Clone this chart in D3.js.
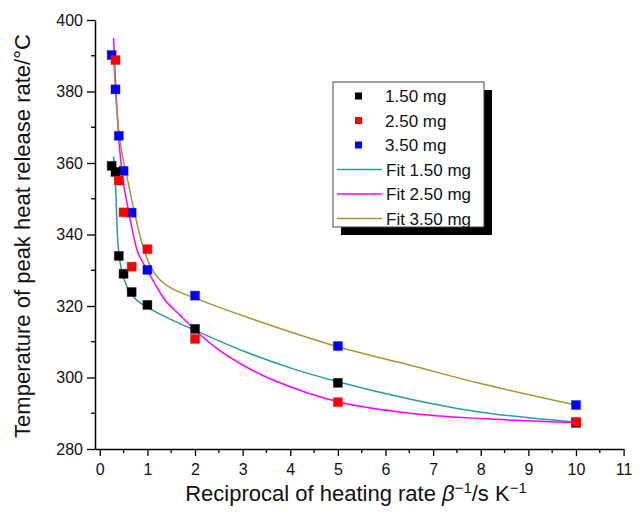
<!DOCTYPE html>
<html>
<head>
<meta charset="utf-8">
<script src="https://cdn.jsdelivr.net/npm/d3@7"></script>
<style>
  body { margin: 0; background: #fff; }
  svg { font-family: "Liberation Sans", Arial, Helvetica, sans-serif; }
</style>
</head>
<body>
<svg id="chart" width="644" height="515"></svg>
<script>
// measured points (x = 1/beta, y = temperature)
var x150 = [0.25, 0.33, 0.4, 0.5, 0.67, 1, 2, 5, 10];
var y150 = [359.2, 357.5, 334, 329, 323.9, 320.3, 313.6, 298.5, 287.3];
var x250 = [0.33, 0.4, 0.5, 0.67, 1, 2, 5, 10];
var y250 = [388.8, 355.1, 346.2, 331, 335.9, 310.8, 293.1, 287.6];
var x350 = [0.25, 0.33, 0.4, 0.5, 0.67, 1, 2, 5, 10];
var y350 = [390.2, 380.6, 367.6, 357.8, 346.1, 330.1, 322.9, 308.8, 292.3];

// fit curves
var fitX150 = [0.29, 0.33, 0.385, 0.45, 0.5, 0.6, 0.75, 1.0, 1.5, 2.0, 3.0, 4.0, 5.0, 6.5, 8.0, 10];
var fitY150 = [361.8, 354, 337, 330.5, 328, 324.5, 322, 319.6, 316.2, 313.2, 307.5, 302.7, 298.8, 294.0, 290.3, 287.5];
var fitX250 = [0.29, 0.33, 0.38, 0.42, 0.5, 0.56, 0.67, 0.8, 1.0, 1.37, 1.68, 2.0, 2.5, 3.0, 3.6, 5.0, 6.5, 8.0, 10];
var fitY250 = [395, 383, 371, 363.6, 354, 349.7, 342.2, 335, 330, 321.7, 317.5, 313.3, 307.7, 303.5, 299.5, 293.2, 290, 288.5, 287.4];
var fitX350 = [0.29, 0.35, 0.45, 0.6, 0.74, 0.9, 1.05, 1.25, 1.5, 2.0, 3.26, 5.0, 6.5, 8.0, 10];
var fitY350 = [391, 376, 364, 354.3, 345.5, 337, 331.5, 327.5, 325, 322.2, 316.1, 308.6, 303.5, 298.3, 292.3];

var xTicks = [0, 1, 2, 3, 4, 5, 6, 7, 8, 9, 10, 11];
var yTicks = [280, 300, 320, 340, 360, 380, 400];
var legendNames = ["1.50 mg", "2.50 mg", "3.50 mg", "Fit 1.50 mg", "Fit 2.50 mg", "Fit 3.50 mg"];

var svg = d3.select("#chart");

var x = d3.scaleLinear().domain([-0.1, 11]).range([95, 623.6]);
var y = d3.scaleLinear().domain([280, 400]).range([449, 20]);

// x axis
var xAxis = d3.axisBottom(x).tickValues(xTicks).tickSize(7).tickSizeOuter(0).tickPadding(8).tickFormat(d3.format("d"));
var gx = svg.append("g").attr("transform", "translate(0,449)").call(xAxis);
var xMinor = d3.range(0.5, 11, 1);
gx.selectAll("line.minor").data(xMinor).enter().append("line")
    .attr("class", "minor")
    .attr("x1", function(d){ return x(d); }).attr("x2", function(d){ return x(d); })
    .attr("y1", 0).attr("y2", 4).attr("stroke", "#000").attr("stroke-width", 1.3);

// y axis
var yAxis = d3.axisLeft(y).tickValues(yTicks).tickSize(8).tickSizeOuter(0).tickPadding(4);
var gy = svg.append("g").attr("transform", "translate(95,0)").call(yAxis);
var yMinor = d3.range(290, 400, 20);
gy.selectAll("line.minor").data(yMinor).enter().append("line")
    .attr("class", "minor")
    .attr("x1", -4).attr("x2", 0)
    .attr("y1", function(d){ return y(d); }).attr("y2", function(d){ return y(d); })
    .attr("stroke", "#000").attr("stroke-width", 1.3);

[gx, gy].forEach(function(g) {
    g.select(".domain").attr("stroke", "#000").attr("stroke-width", 1.5);
    g.selectAll(".tick line").attr("stroke", "#000").attr("stroke-width", 1.3);
    g.selectAll(".tick text").attr("font-size", 16).attr("fill", "#111")
        .attr("font-family", "Liberation Sans, Arial, sans-serif");
});

// axis titles
svg.append("text")
    .attr("transform", "translate(30,236) rotate(-90)")
    .attr("text-anchor", "middle")
    .attr("font-size", 22)
    .attr("fill", "#111")
    .text("Temperature of peak heat release rate/°C");

var xt = svg.append("text")
    .attr("x", 356).attr("y", 501)
    .attr("text-anchor", "middle")
    .attr("font-size", 22)
    .attr("fill", "#111");
xt.append("tspan").text("Reciprocal of heating rate ");
xt.append("tspan").attr("font-style", "italic").text("β");
xt.append("tspan").attr("font-size", 15).attr("dy", -8).text("−1");
xt.append("tspan").attr("dy", 8).text("/s K");
xt.append("tspan").attr("font-size", 15).attr("dy", -8).text("−1");

// fit curves
var line = d3.line()
    .x(function(d){ return x(d[0]); })
    .y(function(d){ return y(d[1]); })
    .curve(d3.curveCatmullRom.alpha(0.5));

var fits = [
    {xs: fitX150, ys: fitY150, color: "#2f9a9a"},
    {xs: fitX250, ys: fitY250, color: "#ff00ff"},
    {xs: fitX350, ys: fitY350, color: "#9e9a34"}
];
fits.forEach(function(f) {
    var pts = d3.zip(f.xs, f.ys);
    svg.append("path").datum(pts)
        .attr("d", line)
        .attr("fill", "none")
        .attr("stroke", f.color)
        .attr("stroke-width", 1.5);
});

// scatter points
var series = [
    {xs: x350, ys: y350, color: "#0000ff"},
    {xs: x150, ys: y150, color: "#000000"},
    {xs: x250, ys: y250, color: "#ff0000"}
];
var s = 9;
series.forEach(function(sr) {
    svg.append("g").selectAll("rect").data(d3.zip(sr.xs, sr.ys)).enter().append("rect")
        .attr("x", function(d){ return x(d[0]) - s / 2; })
        .attr("y", function(d){ return y(d[1]) - s / 2; })
        .attr("width", s).attr("height", s)
        .attr("fill", sr.color)
        .attr("stroke", sr.color).attr("stroke-opacity", 0.35).attr("stroke-width", 1);
});

// legend
var lg = svg.append("g");
lg.append("rect").attr("x", 341).attr("y", 90).attr("width", 151).attr("height", 145).attr("fill", "#000");
lg.append("rect").attr("x", 333).attr("y", 82).attr("width", 151).attr("height", 145)
    .attr("fill", "#fff").attr("stroke", "#444").attr("stroke-width", 1);

var legendColors = ["#000000", "#ff0000", "#0000ff", "#2f9a9a", "#ff00ff", "#9e9a34"];
legendNames.forEach(function(name, i) {
    var ly = 96 + i * 24.5;
    if (i < 3) {
        lg.append("rect").attr("x", 355).attr("y", ly - 3.5).attr("width", 7).attr("height", 7)
            .attr("fill", legendColors[i]);
    } else {
        lg.append("line").attr("x1", 337).attr("x2", 382).attr("y1", ly).attr("y2", ly)
            .attr("stroke", legendColors[i]).attr("stroke-width", 1.5);
    }
    lg.append("text").attr("x", i < 3 ? 385 : 386).attr("y", ly + 6)
        .attr("font-size", 17).attr("fill", "#111").text(name);
});
</script>
</body>
</html>
